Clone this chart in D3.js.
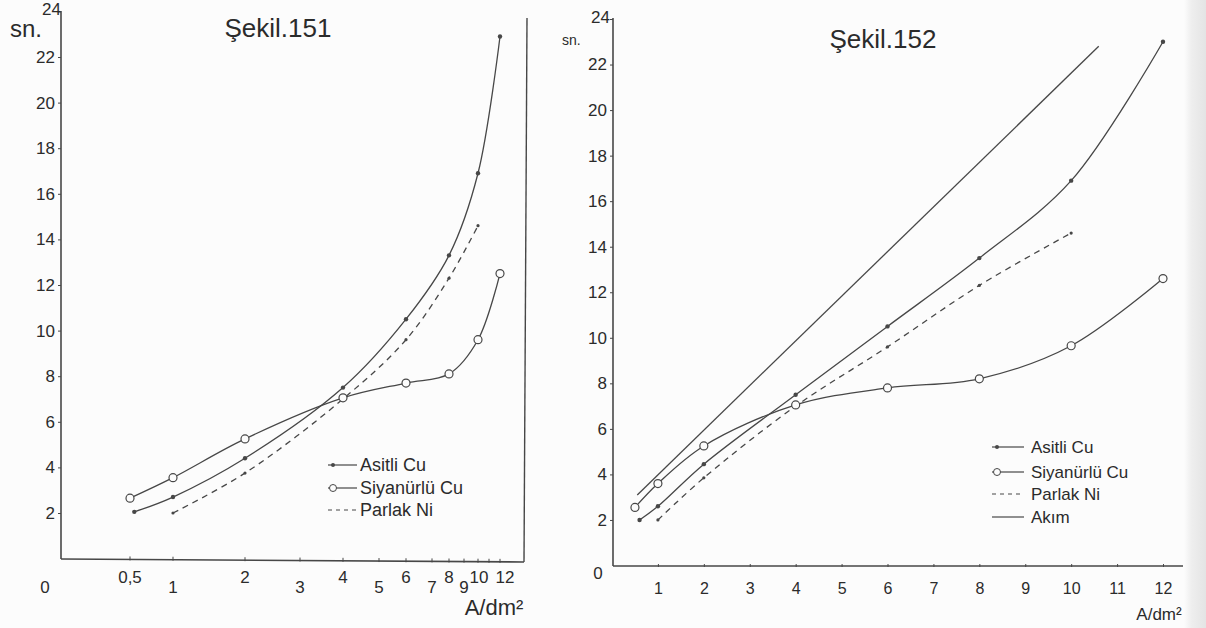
<!DOCTYPE html>
<html>
<head>
<meta charset="utf-8">
<script src="https://cdn.jsdelivr.net/npm/d3@7"></script>
<style>
  html, body { margin: 0; padding: 0; background: #fcfcfc; }
  svg { display: block; }
  text { font-family: "Liberation Sans", Arial, sans-serif; fill: #2b2b2b; }
</style>
</head>
<body>
<svg id="chart" width="1206" height="628"></svg>
<script>
// ---- Şekil.151 data (time in sn. vs current density A/dm²) ----
const leftXTicks  = [0.5, 1, 2, 3, 4, 5, 6, 7, 8, 9, 10, 11, 12];
const leftXLabels = ["0,5", "1", "2", "3", "4", "5", "6", "7", "8", "9", "10", "", "12"];
const yTicks      = [2, 4, 6, 8, 10, 12, 14, 16, 18, 20, 22, 24];

const leftAsitliX = [0.55, 1, 2, 4, 6, 8, 10, 12];
const leftAsitliY = [2.05, 2.7, 4.4, 7.5, 10.5, 13.3, 16.9, 22.9];
const leftSiyanX  = [0.5, 1, 2, 4, 6, 8, 10, 12];
const leftSiyanY  = [2.65, 3.55, 5.25, 7.05, 7.7, 8.1, 9.6, 12.5];
const leftNiX     = [1, 2, 4, 6, 8, 10];
const leftNiY     = [2.0, 3.75, 7.0, 9.6, 12.3, 14.6];

// ---- Şekil.152 data ----
const rightXTicks   = [1, 2, 3, 4, 5, 6, 7, 8, 9, 10, 11, 12];
const rightAsitliX  = [0.6, 1, 2, 4, 6, 8, 10, 12];
const rightAsitliY  = [2.0, 2.6, 4.45, 7.5, 10.5, 13.5, 16.9, 23.0];
const rightSiyanX   = [0.5, 1, 2, 4, 6, 8, 10, 12];
const rightSiyanY   = [2.55, 3.6, 5.25, 7.05, 7.8, 8.2, 9.65, 12.6];
const rightNiX      = [1, 2, 4, 6, 8, 10];
const rightNiY      = [2.0, 3.85, 7.0, 9.6, 12.3, 14.6];
const rightAkimX    = [0.55, 10.6];
const rightAkimY    = [3.1, 22.8];

const legendLeft  = ["Asitli Cu", "Siyanürlü Cu", "Parlak Ni"];
const legendRight = ["Asitli Cu", "Siyanürlü Cu", "Parlak Ni", "Akım"];

const zip = (xs, ys) => xs.map((x, i) => [x, ys[i]]);

const INK = "#474747";
const svg = d3.select("#chart");

// paper shading along the right edge
const defs = svg.append("defs");
const grad = defs.append("linearGradient").attr("id", "edge").attr("x1", 0).attr("x2", 1);
grad.append("stop").attr("offset", 0).attr("stop-color", "#fcfcfc");
grad.append("stop").attr("offset", 0.35).attr("stop-color", "#eeeeee");
grad.append("stop").attr("offset", 1).attr("stop-color", "#e4e4e4");
svg.append("rect").attr("x", 1184).attr("y", 0).attr("width", 22).attr("height", 628).attr("fill", "url(#edge)");

// ---------- Şekil.151 : stretched current-density axis ----------
const xL = d3.scaleLinear()
  .domain([0].concat(leftXTicks))
  .range([61, 130, 173, 245, 300, 343, 379, 406, 432, 449, 464, 478, 489, 500]);
const yL = d3.scaleLinear().domain([0, 24]).range([558.6, 11.4]);

const gL = svg.append("g");

// frame: y axis, x axis, right border
gL.append("line").attr("x1", 61).attr("y1", 11).attr("x2", 61).attr("y2", 559)
  .attr("stroke", INK).attr("stroke-width", 1.6);
gL.append("line").attr("x1", 61).attr("y1", 559).attr("x2", 524).attr("y2", 562)
  .attr("stroke", INK).attr("stroke-width", 1.6);
gL.append("line").attr("x1", 524).attr("y1", 562).attr("x2", 527).attr("y2", 18)
  .attr("stroke", INK).attr("stroke-width", 1.4);

function styleAxis(sel, size) {
  sel.select(".domain").remove();
  sel.selectAll("line").attr("stroke", INK);
  sel.selectAll("text").style("font-size", size + "px").attr("fill", "#2b2b2b")
    .attr("font-family", "Liberation Sans, Arial, sans-serif");
}

const yAxL = d3.axisLeft(yL).tickValues(yTicks).tickSize(3).tickPadding(3);
const yAxLG = gL.append("g").attr("transform", "translate(61,0)").call(yAxL);
styleAxis(yAxLG, 17);
yAxLG.selectAll(".tick").filter(d => d === 24).select("text").attr("x", 0).attr("dy", "0.2em");

// x ticks and staggered labels
const xtL = gL.append("g");
xtL.selectAll("line").data(leftXTicks).join("line")
  .attr("x1", d => xL(d)).attr("x2", d => xL(d))
  .attr("y1", d => 559 + (xL(d) - 61) / 463 * 3 - 3)
  .attr("y2", d => 559 + (xL(d) - 61) / 463 * 3 + 1)
  .attr("stroke", INK);
xtL.selectAll("text").data(leftXTicks).join("text")
  .attr("x", d => xL(d) + (d === 12 ? 5 : d === 10 ? 1 : 0))
  .attr("y", d => (Number.isInteger(d) && d % 2 === 1) ? 593 : 583)
  .attr("text-anchor", "middle").style("font-size", "17px")
  .text((d, i) => leftXLabels[i]);
gL.append("text").attr("x", 45).attr("y", 593).attr("text-anchor", "middle")
  .style("font-size", "17px").text("0");
gL.append("text").attr("x", 494).attr("y", 615).attr("text-anchor", "middle")
  .style("font-size", "22px").html("A/dm²");
gL.append("text").attr("x", 10).attr("y", 37).style("font-size", "24px").text("sn.");
gL.append("text").attr("x", 278).attr("y", 37).attr("text-anchor", "middle")
  .style("font-size", "26px").text("Şekil.151");

// ---------- Şekil.152 : linear axes ----------
const xR = d3.scaleLinear().domain([0, 12]).range([612, 1163]);
const yR = d3.scaleLinear().domain([0, 24]).range([565.5, 19]);
const gR = svg.append("g");

gR.append("line").attr("x1", 613).attr("y1", 18).attr("x2", 613).attr("y2", 566)
  .attr("stroke", INK).attr("stroke-width", 1.6);
gR.append("line").attr("x1", 613).attr("y1", 566).attr("x2", 1183).attr("y2", 566)
  .attr("stroke", INK).attr("stroke-width", 1.6);

const yAxR = d3.axisLeft(yR).tickValues(yTicks).tickSize(3).tickPadding(3);
const yAxRG = gR.append("g").attr("transform", "translate(613,0)").call(yAxR);
styleAxis(yAxRG, 17);
yAxRG.selectAll(".tick").filter(d => d === 24).select("text").attr("x", -3).attr("dy", "0.2em");

const xAxR = d3.axisBottom(xR).tickValues(rightXTicks).tickSize(3).tickPadding(16)
  .tickFormat(d3.format("d"));
const xAxRG = gR.append("g").attr("transform", "translate(0,564)").call(xAxR);
styleAxis(xAxRG, 16);
gR.append("text").attr("x", 598).attr("y", 579).attr("text-anchor", "middle")
  .style("font-size", "17px").text("0");
gR.append("text").attr("x", 1159).attr("y", 620).attr("text-anchor", "middle")
  .style("font-size", "17px").html("A/dm²");
gR.append("text").attr("x", 562).attr("y", 45).style("font-size", "14px").text("sn.");
gR.append("text").attr("x", 883).attr("y", 48).attr("text-anchor", "middle")
  .style("font-size", "26px").text("Şekil.152");

// ---------- series drawing ----------
function drawSeries(g, x, y, pts, opts) {
  const line = d3.line().x(d => x(d[0])).y(d => y(d[1]))
    .curve(opts.straight ? d3.curveLinear : d3.curveCatmullRom.alpha(0.5));
  g.append("path").datum(pts).attr("d", line)
    .attr("fill", "none").attr("stroke", INK).attr("stroke-width", 1.3)
    .attr("stroke-dasharray", opts.dash || null);
  if (opts.marker === "circle") {
    g.selectAll(null).data(pts).join("circle")
      .attr("cx", d => x(d[0])).attr("cy", d => y(d[1])).attr("r", 4)
      .attr("fill", "#fcfcfc").attr("stroke", INK).attr("stroke-width", 1.2);
  } else if (opts.marker === "dot") {
    g.selectAll(null).data(pts).join("circle")
      .attr("cx", d => x(d[0])).attr("cy", d => y(d[1])).attr("r", opts.r || 2.2)
      .attr("fill", INK);
  }
}

drawSeries(gL, xL, yL, zip(leftNiX, leftNiY), { dash: "6,5", marker: "dot", r: 1.6 });
drawSeries(gL, xL, yL, zip(leftAsitliX, leftAsitliY), { marker: "dot" });
drawSeries(gL, xL, yL, zip(leftSiyanX, leftSiyanY), { marker: "circle" });

drawSeries(gR, xR, yR, zip(rightAkimX, rightAkimY), { straight: true });
drawSeries(gR, xR, yR, zip(rightNiX, rightNiY), { dash: "6,5", marker: "dot", r: 1.6 });
drawSeries(gR, xR, yR, zip(rightAsitliX, rightAsitliY), { marker: "dot" });
drawSeries(gR, xR, yR, zip(rightSiyanX, rightSiyanY), { marker: "circle" });

// ---------- legends ----------
function legend(g, labels, x0, x1, tx, ys, size) {
  labels.forEach((lab, i) => {
    const yy = ys[i];
    const ln = g.append("line").attr("x1", x0).attr("x2", x1).attr("y1", yy).attr("y2", yy)
      .attr("stroke", INK).attr("stroke-width", 1.2);
    if (lab === "Parlak Ni") ln.attr("stroke-dasharray", "4,4");
    if (lab === "Asitli Cu") g.append("circle").attr("cx", x0 + 5).attr("cy", yy).attr("r", 2).attr("fill", INK);
    if (lab === "Siyanürlü Cu") g.append("circle").attr("cx", x0 + 5).attr("cy", yy).attr("r", 3.5)
      .attr("fill", "#fcfcfc").attr("stroke", INK);
    g.append("text").attr("x", tx).attr("y", yy + size * 0.36).style("font-size", size + "px").text(lab);
  });
}
legend(gL, legendLeft, 328, 357, 360, [465, 488, 510], 18);
legend(gR, legendRight, 992, 1024, 1031, [447, 472, 494, 517], 17);
</script>
</body>
</html>
